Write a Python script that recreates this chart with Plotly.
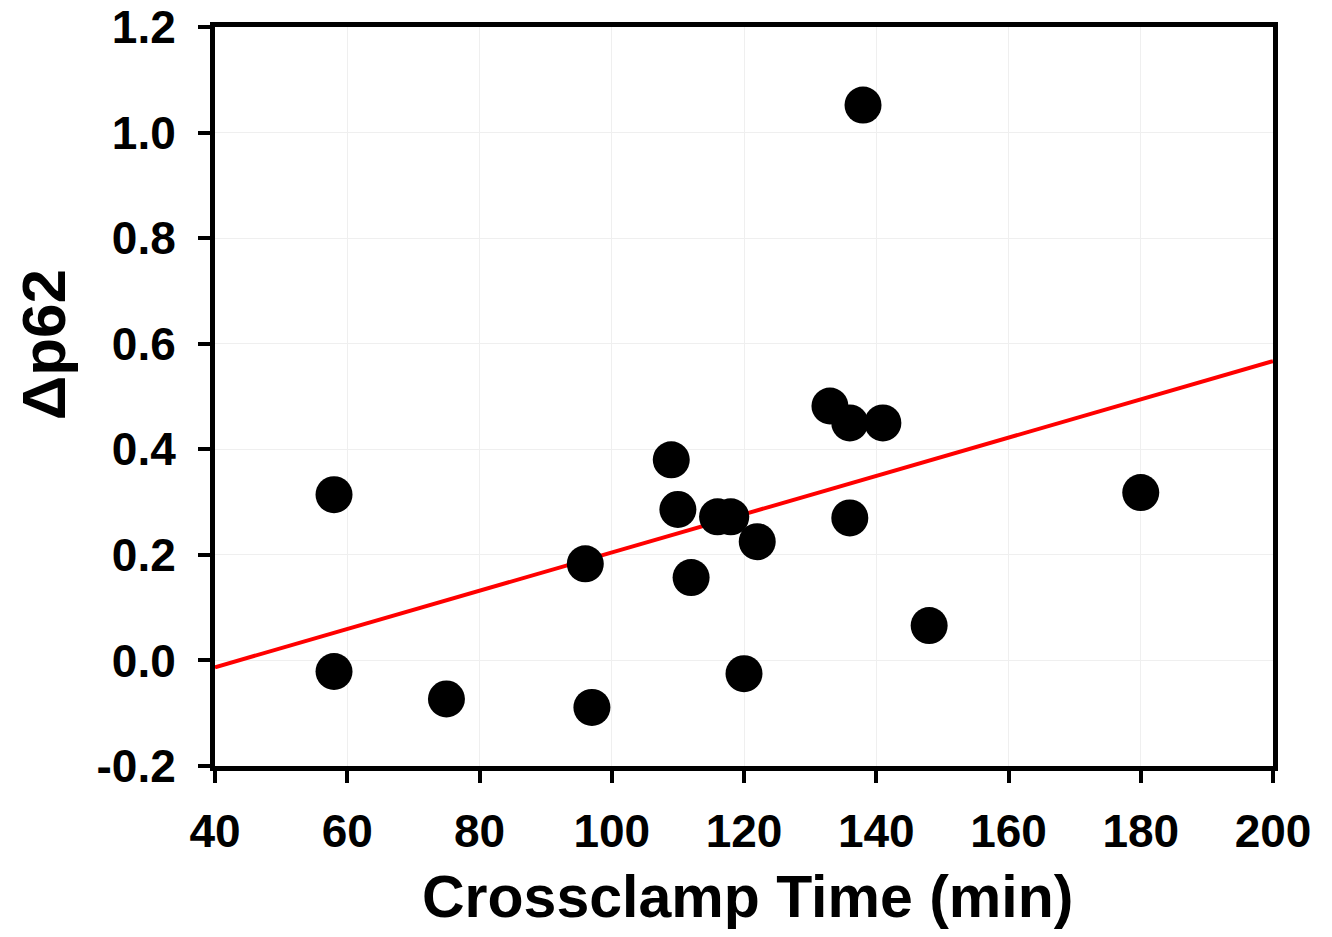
import plotly.graph_objects as go

crossclamp_min = [58, 58, 75, 96, 97, 109, 110, 112, 116, 118, 120, 122, 133, 136, 136, 138, 141, 148, 180]
delta_p62 = [0.314, -0.021, -0.073, 0.183, -0.089, 0.380, 0.286, 0.157, 0.272, 0.272, -0.025, 0.225, 0.482, 0.450, 0.270, 1.052, 0.450, 0.066, 0.318]

trend_x = [40, 200]
trend_y = [-0.013, 0.567]

x_ticks = [40, 60, 80, 100, 120, 140, 160, 180, 200]
y_ticks = [-0.2, 0.0, 0.2, 0.4, 0.6, 0.8, 1.0, 1.2]
y_tick_labels = ["-0.2", "0.0", "0.2", "0.4", "0.6", "0.8", "1.0", "1.2"]

x_title = "Crossclamp Time (min)"
y_title = "Δp62"

font_family = "Liberation Sans, Arial, sans-serif"

fig = go.Figure()
fig.add_trace(go.Scatter(
    x=trend_x, y=trend_y, mode="lines",
    line=dict(color="#ff0000", width=4), showlegend=False, hoverinfo="skip"))
fig.add_trace(go.Scatter(
    x=crossclamp_min, y=delta_p62, mode="markers",
    marker=dict(color="black", size=37, line=dict(width=0)), showlegend=False))

axis_common = dict(
    showline=True, linecolor="black", linewidth=5, mirror=True,
    ticks="outside", ticklen=12, tickwidth=4, tickcolor="black",
    showgrid=True, gridcolor="#efefef", gridwidth=1, zeroline=False,
    automargin=False, ticklabeloverflow="allow",
    tickfont=dict(family=font_family, size=46, color="black", weight="bold"),
)

fig.update_xaxes(
    range=[40, 200], tickvals=x_ticks, ticktext=[str(v) for v in x_ticks],
    ticklabelstandoff=9, **axis_common)
fig.update_yaxes(
    range=[-0.2, 1.2], tickvals=y_ticks, ticktext=y_tick_labels,
    ticklabelstandoff=13, **axis_common)

fig.add_annotation(
    text=x_title, xref="paper", yref="paper", x=0.5036, y=-0.177,
    xanchor="center", yanchor="middle", showarrow=False,
    font=dict(family=font_family, size=59, color="black", weight="bold"))
fig.add_annotation(
    text=y_title, xref="paper", yref="paper", x=-0.162, y=0.57,
    xanchor="center", yanchor="middle", showarrow=False, textangle=-90,
    font=dict(family=font_family, size=62, color="black", weight="bold"))

fig.update_layout(
    width=1324, height=929,
    margin=dict(l=207, r=59, t=19, b=171),
    plot_bgcolor="white", paper_bgcolor="white",
)

fig.write_html("out.html")
